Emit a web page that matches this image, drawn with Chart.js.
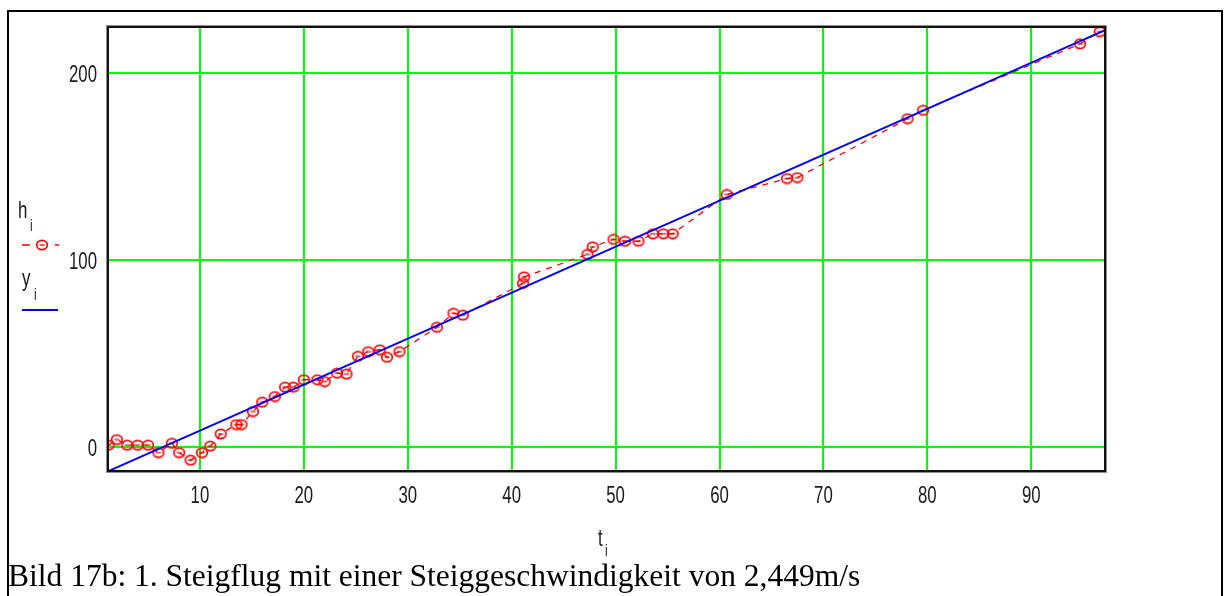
<!DOCTYPE html>
<html>
<head>
<meta charset="utf-8">
<title>Steigflug</title>
<script src="https://cdn.jsdelivr.net/npm/chart.js@4.4.1/dist/chart.umd.min.js"></script>
<style>
  body { margin: 0; background: #ffffff; }
  #wrap { position: relative; width: 1231px; height: 596px; }
</style>
</head>
<body>
<div id="wrap"><canvas id="myChart" width="1231" height="596"></canvas></div>
<script>
let hTimes = [1.2, 2, 3, 4, 5, 6, 7.3, 8, 9.1, 10.2, 11, 12, 13.5, 14, 15.1, 16, 17.2, 18.2, 19, 20,
              21.3, 22, 23.2, 24.1, 25.2, 26.2, 27.3, 28, 29.2, 32.8, 34.4, 35.3, 41.1, 41.2, 47.3, 47.8,
              49.8, 50.9, 52.2, 53.6, 54.6, 55.5, 60.7, 66.5, 67.5, 78.1, 79.6, 94.7, 96.6];
let hValues = [1, 4, 1, 1, 1, -3, 2, -3, -7, -3, 0.5, 7, 12, 12, 19, 24, 27, 32, 32, 36,
               36, 35, 39.5, 39, 48.5, 51, 52, 48, 51, 64, 71.5, 70.5, 87.5, 91, 103, 107,
               111, 110, 110, 114, 114, 114, 135, 143.5, 144, 175.5, 180, 215.5, 222];

// regression line y_i
let fitTimes = [1, 97];
let fitValues = [-13.3, 222.6];

// axis ticks
let xTicks = [10, 20, 30, 40, 50, 60, 70, 80, 90];
let yTicks = [0, 100, 200];

let caption = "Bild 17b: 1. Steigflug mit einer Steiggeschwindigkeit von 2,449m/s";

let labelFont = "24px 'Liberation Sans', Arial, sans-serif";
let subFont = "17px 'Liberation Sans', Arial, sans-serif";
let squeeze = 0.7; // the original labels are in a narrow face

// the little circle marker with a bar through it
function makeMarker() {
    let c = document.createElement("canvas");
    c.width = 14;
    c.height = 12;
    let g = c.getContext("2d");
    g.strokeStyle = "#ff0000";
    g.lineWidth = 1.7;
    g.beginPath();
    g.ellipse(7, 6, 5.3, 4.6, 0, 0, Math.PI * 2);
    g.stroke();
    g.lineWidth = 1.3;
    g.beginPath();
    g.moveTo(4.5, 6);
    g.lineTo(9.5, 6);
    g.stroke();
    return c;
}
let marker = makeMarker();

function toPoints(xs, ys) {
    return xs.map(function (x, i) { return { x: x, y: ys[i] }; });
}

// draws narrow text by squeezing it sideways
function narrowText(ctx, text, x, y, align) {
    ctx.save();
    ctx.translate(x, y);
    ctx.scale(squeeze, 1);
    ctx.textAlign = align;
    ctx.fillText(text, 0, 0);
    ctx.restore();
}

// frame, plot border, tick labels, legend and texts
let decorations = {
    id: "decorations",
    afterDraw: function (chart) {
        let ctx = chart.ctx;
        let ca = chart.chartArea;
        let xs = chart.scales.x;
        let ys = chart.scales.y;
        ctx.save();

        // outer frame of the figure
        ctx.strokeStyle = "#000000";
        ctx.lineWidth = 2;
        ctx.beginPath();
        ctx.moveTo(8, 600);
        ctx.lineTo(8, 11);
        ctx.lineTo(1222, 11);
        ctx.lineTo(1222, 600);
        ctx.stroke();

        // plot border
        ctx.strokeStyle = "#909090";
        ctx.lineWidth = 1;
        ctx.strokeRect(ca.left - 1.5, ca.top - 1.5, ca.right - ca.left + 3, ca.bottom - ca.top + 3);
        ctx.strokeStyle = "#111111";
        ctx.lineWidth = 2;
        ctx.strokeRect(ca.left, ca.top, ca.right - ca.left, ca.bottom - ca.top);

        // tick labels
        ctx.fillStyle = "#1a1a1a";
        ctx.font = labelFont;
        ctx.textBaseline = "alphabetic";
        xTicks.forEach(function (v) {
            narrowText(ctx, String(v), xs.getPixelForValue(v), 503, "center");
        });
        yTicks.forEach(function (v) {
            narrowText(ctx, String(v), 97, ys.getPixelForValue(v) + 9, "right");
        });

        // legend on the left: h_i (dashed red with marker), y_i (blue)
        ctx.font = labelFont;
        narrowText(ctx, "h", 18, 218, "left");
        narrowText(ctx, "y", 22, 286, "left");
        ctx.font = subFont;
        narrowText(ctx, "i", 30, 231, "left");
        narrowText(ctx, "i", 34, 300, "left");

        ctx.strokeStyle = "#ff0000";
        ctx.lineWidth = 1.5;
        ctx.beginPath();
        ctx.moveTo(22, 245); ctx.lineTo(30, 245);
        ctx.moveTo(55, 245); ctx.lineTo(59, 245);
        ctx.stroke();
        ctx.drawImage(marker, 35, 239);

        ctx.strokeStyle = "#0000ff";
        ctx.lineWidth = 2;
        ctx.beginPath();
        ctx.moveTo(22, 310); ctx.lineTo(58, 310);
        ctx.stroke();

        // x axis title t_i
        ctx.font = labelFont;
        narrowText(ctx, "t", 598, 546, "left");
        ctx.font = subFont;
        narrowText(ctx, "i", 605, 556, "left");

        // caption below the chart
        ctx.fillStyle = "#000000";
        ctx.font = "31.5px 'Liberation Serif', 'Times New Roman', serif";
        ctx.textAlign = "left";
        ctx.fillText(caption, 8, 586);

        ctx.restore();
    }
};

let ctx = document.getElementById("myChart").getContext("2d");
let myChart = new Chart(ctx, {
    type: "scatter",
    data: {
        datasets: [
            {
                label: "h",
                data: toPoints(hTimes, hValues),
                showLine: true,
                borderColor: "#ff0000",
                borderWidth: 1.3,
                borderDash: [6, 6],
                pointStyle: marker,
                pointRadius: 6,
                pointHoverRadius: 6,
                order: 2
            },
            {
                label: "y",
                data: toPoints(fitTimes, fitValues),
                showLine: true,
                borderColor: "#0000ff",
                borderWidth: 2,
                pointRadius: 0,
                order: 1
            }
        ]
    },
    options: {
        responsive: false,
        animation: false,
        devicePixelRatio: 1,
        layout: { padding: { left: 0, top: 27, right: 126, bottom: 0 } },
        plugins: {
            legend: { display: false },
            tooltip: { enabled: false }
        },
        scales: {
            x: {
                type: "linear",
                min: 1.15,
                max: 97.1,
                afterBuildTicks: function (scale) {
                    scale.ticks = xTicks.map(function (v) { return { value: v }; });
                },
                afterFit: function (scale) { scale.height = 125; },
                grid: { color: "#00ff00", lineWidth: 2, drawTicks: false },
                border: { display: false },
                ticks: { display: false }
            },
            y: {
                type: "linear",
                min: -12.8,
                max: 224.5,
                afterBuildTicks: function (scale) {
                    scale.ticks = yTicks.map(function (v) { return { value: v }; });
                },
                afterFit: function (scale) { scale.width = 108; },
                grid: { color: "#00ff00", lineWidth: 2, drawTicks: false },
                border: { display: false },
                ticks: { display: false }
            }
        }
    },
    plugins: [decorations]
});
</script>
</body>
</html>
